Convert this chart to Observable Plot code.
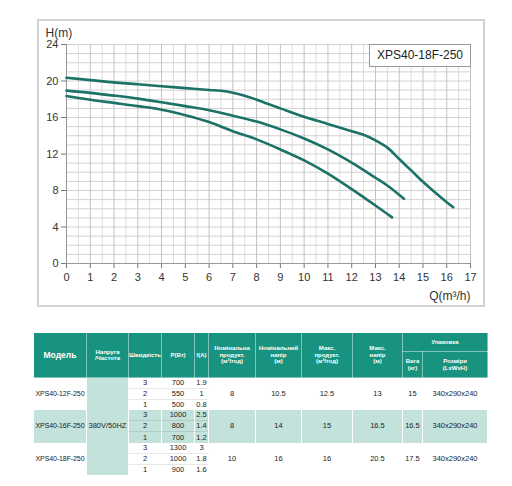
<!DOCTYPE html>
<html><head><meta charset="utf-8">
<script src="https://cdn.jsdelivr.net/npm/d3@7"></script>
<script src="https://cdn.jsdelivr.net/npm/@observablehq/plot@0.6"></script>
<style>
html,body{margin:0;padding:0;background:#fff;width:512px;height:486px;overflow:hidden;font-family:"Liberation Sans",Arial,sans-serif;}
#wrap{position:relative;width:512px;height:486px;}
#frame{position:absolute;left:37px;top:19px;width:444px;height:284px;border:2px solid #d2d2d2;}
#chart{position:absolute;left:0;top:0;}
#legend{position:absolute;left:369px;top:44px;width:100px;height:21px;border:1px solid #999;background:#fff;font-size:12px;line-height:21px;text-align:center;color:#222;}
table{position:absolute;left:33px;top:332px;border-collapse:collapse;table-layout:fixed;width:454px;}
th{background:#17937f;color:#fff;font-weight:bold;font-size:6px;line-height:6.5px;border:1px solid rgba(255,255,255,0.45);padding:0;text-align:center;vertical-align:middle;}
th.big{font-size:8.5px;}
td{font-size:7.5px;line-height:8px;color:#222;padding:0;text-align:center;vertical-align:middle;height:10.1px;border-left:1px solid #fff;border-right:1px solid #fff;white-space:nowrap;}
td.model{font-size:7px;letter-spacing:-0.1px;overflow:visible;}
tr.alt td{background:#c3e2dc;}
td.volt{background:#c3e2dc;}
td.sub{border-bottom:1px solid rgba(0,0,0,0.09);}
</style></head>
<body><div id="wrap"><div id="frame"></div><div id="chart"></div><div id="legend"></div><table id="tbl"></table></div>
<script>
// ---- curve data (Q m³/h, H m) ----
const flow18 = [0, 1, 2, 3, 4, 5, 6, 6.5, 7, 7.5, 8, 9, 10, 11, 12, 12.5, 13, 13.5, 14, 14.5, 15, 15.5, 16, 16.27];
const head18 = [20.35, 20.1, 19.85, 19.65, 19.42, 19.22, 19.02, 18.93, 18.72, 18.38, 17.95, 17.0, 16.08, 15.3, 14.5, 14.1, 13.5, 12.7, 11.45, 10.2, 8.95, 7.8, 6.72, 6.17];
const flow16 = [0, 1, 2, 3, 4, 5, 6, 7, 8, 9, 10, 11, 12, 13, 13.5, 14.2];
const head16 = [18.95, 18.7, 18.4, 18.07, 17.67, 17.25, 16.8, 16.2, 15.55, 14.7, 13.7, 12.5, 11.05, 9.4, 8.55, 7.1];
const flow12 = [0, 1, 2, 3, 4, 5, 6, 7, 8, 9, 10, 11, 12, 13, 13.7];
const head12 = [18.35, 17.95, 17.6, 17.25, 16.85, 16.25, 15.5, 14.5, 13.6, 12.5, 11.3, 9.85, 8.15, 6.35, 5.05];
const xTicks = [0,1,2,3,4,5,6,7,8,9,10,11,12,13,14,15,16,17];
const yTicks = [0,4,8,12,16,20,24];
const legendLabel = "XPS40-18F-250";

// ---- table data ----
const models = ["XPS40-12F-250","XPS40-16F-250","XPS40-18F-250"];
const voltage = "380V/50HZ";
const speeds = [[3,2,1],[3,2,1],[3,2,1]];
const powers = [[700,550,500],[1000,800,700],[1300,1000,900]];
const currents = [["1.9","1","0.8"],["2.5","1.4","1.2"],["3","1.8","1.6"]];
const nomFlow = ["8","8","10"];
const nomHead = ["10.5","14","16"];
const maxFlow = ["12.5","15","16"];
const maxHead = ["13","16.5","20.5"];
const weight = ["15","16.5","17.5"];
const dims = ["340x290x240","340x290x240","340x290x240"];
const headers = ["Модель","Напруга<br>/Частота","Швидкість","P(Вт)","I(A)","Номінальна<br>продукт.<br>(м³/год)","Номінальний<br>напір<br>(м)","Макс.<br>продукт.<br>(м³/год)","Макс.<br>напір<br>(м)","Упаковка","Вага<br>(кг)","Розміри<br>(LxWxH)"];
const colWidths = [53,42,33,33,14,47,46,51,50,20,65];

const curves = [
  ...flow18.map((q,i)=>({model:"18F", q, h:head18[i]})),
  ...flow16.map((q,i)=>({model:"16F", q, h:head16[i]})),
  ...flow12.map((q,i)=>({model:"12F", q, h:head12[i]}))
];
const xMajor = d3.range(0, 18);
const xMinor = d3.range(0.5, 17, 1);
const yLines = d3.range(0, 25);

const chart = Plot.plot({
  width: 512, height: 320,
  marginLeft: 66, marginRight: 42, marginTop: 44, marginBottom: 57,
  x: {domain: [0, 17]},
  y: {domain: [0, 24]},
  style: {fontFamily: "Liberation Sans, Arial, sans-serif", fontSize: "11px", color: "#333", background: "transparent"},
  marks: [
    Plot.ruleX(xMinor, {stroke: "#dcdcdc"}),
    Plot.ruleY(yLines, {stroke: "#d2d2d2"}),
    Plot.ruleX(xMajor, {stroke: "#c2c2c2"}),
    Plot.axisX({ticks: xTicks, tickSize: 5, tickPadding: 5, label: null, stroke: "#777"}),
    Plot.axisY({ticks: yTicks, tickSize: 5, tickPadding: 3, label: null, stroke: "#777"}),
    Plot.ruleX([0], {stroke: "#999"}),
    Plot.ruleY([0], {stroke: "#999"}),
    Plot.line(curves, {x: "q", y: "h", z: "model", stroke: "#1d7268", strokeWidth: 2.6, curve: "catmull-rom"}),
    Plot.text(["H(m)"], {frameAnchor: "top-left", dx: -21, dy: -8, textAnchor: "start", lineAnchor: "bottom", fontSize: 12, fill: "#333"}),
    Plot.text(["Q(m³/h)"], {frameAnchor: "bottom-right", textAnchor: "end", lineAnchor: "bottom", dy: 36, fontSize: 12, fill: "#333"})
  ]
});
document.getElementById("chart").appendChild(chart);
document.getElementById("legend").textContent = legendLabel;

// ---- table ----
let html = "<colgroup>" + colWidths.map(w=>`<col style="width:${w}px">`).join("") + "</colgroup>";
html += `<tr style="height:19px"><th class="big" rowspan="2">${headers[0]}</th><th rowspan="2">${headers[1]}</th><th rowspan="2">${headers[2]}</th><th rowspan="2">${headers[3]}</th><th rowspan="2">${headers[4]}</th><th rowspan="2">${headers[5]}</th><th rowspan="2">${headers[6]}</th><th rowspan="2">${headers[7]}</th><th rowspan="2">${headers[8]}</th><th colspan="2">${headers[9]}</th></tr>`;
html += `<tr style="height:26px"><th>${headers[10]}</th><th>${headers[11]}</th></tr>`;
models.forEach((m, g) => {
  for (let r = 0; r < 3; r++) {
    const cls = g === 1 ? ' class="alt"' : '';
    const sub = r < 2 ? ' class="sub"' : '';
    html += `<tr${cls}>`;
    if (r === 0) html += `<td class="model" rowspan="3">${m}</td>`;
    if (g === 0 && r === 0) html += `<td class="volt" rowspan="9">${voltage}</td>`;
    html += `<td${sub}>${speeds[g][r]}</td><td${sub}>${powers[g][r]}</td><td${sub}>${currents[g][r]}</td>`;
    if (r === 0) html += `<td rowspan="3">${nomFlow[g]}</td><td rowspan="3">${nomHead[g]}</td><td rowspan="3">${maxFlow[g]}</td><td rowspan="3">${maxHead[g]}</td><td rowspan="3">${weight[g]}</td><td rowspan="3">${dims[g]}</td>`;
    html += `</tr>`;
  }
});
document.getElementById("tbl").innerHTML = html;
</script>
</body></html>
